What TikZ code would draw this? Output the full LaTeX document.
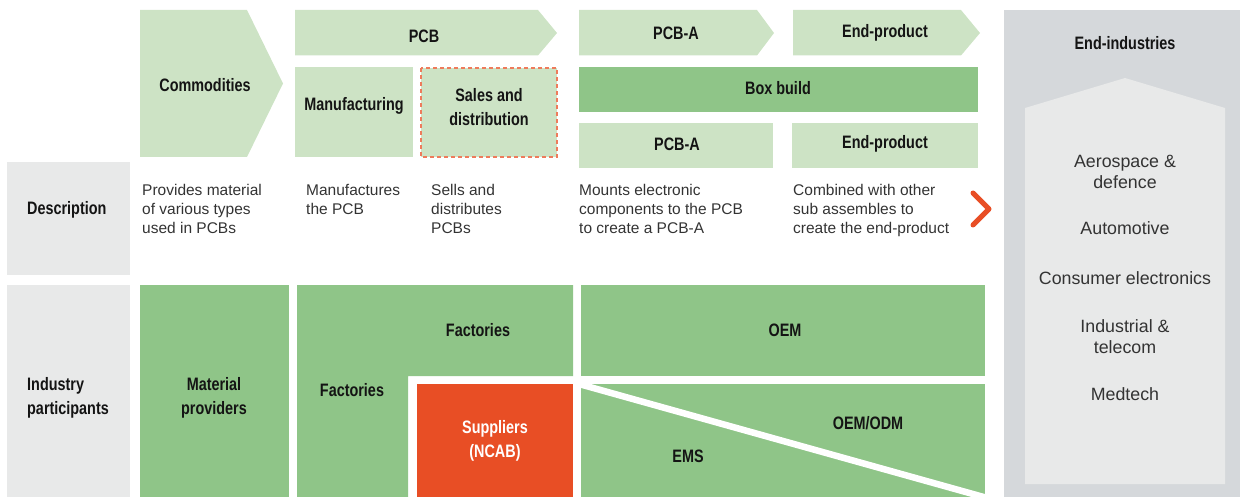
\documentclass[tikz,border=0pt]{standalone}
\usepackage{fontspec}
\setmainfont{Liberation Sans}
\newfontfamily\hd[FakeStretch=0.8]{Liberation Sans}
\definecolor{lg}{HTML}{CDE3C5}
\definecolor{mg}{HTML}{8FC588}
\definecolor{ncab}{HTML}{E84E25}
\definecolor{lbl}{HTML}{E8E9E9}
\definecolor{endg}{HTML}{D5D8DB}
\definecolor{dashc}{HTML}{EE7B5B}
\definecolor{txt}{HTML}{333333}
\tikzset{
  head/.style={font=\hd\bfseries\fontsize{18}{24}\selectfont, text=black!92, align=center, inner sep=0},
  body/.style={font=\fontsize{15.5}{19}\selectfont, text=txt, align=left, anchor=north west, inner sep=0},
  ind/.style={font=\fontsize{17.8}{21}\selectfont, text=txt, align=center, inner sep=0},
  rbox/.style={anchor=north west, inner sep=0, draw=none},
}
\begin{document}
\begin{tikzpicture}[x=1pt,y=-1pt]
\useasboundingbox (0,0) rectangle (1240,497);
% top chevrons
\fill[lg] (140,10) -- (247,10) -- (283,83.5) -- (247,157) -- (140,157) -- cycle;
\node[head] (commod) at (205,85) {Commodities};
\fill[lg] (295,10) -- (538,10) -- (557,33) -- (538,55.5) -- (295,55.5) -- cycle;
\node[head] (pcb) at (424,36) {PCB};
\fill[lg] (579,10) -- (757,10) -- (774,33) -- (757,55.5) -- (579,55.5) -- cycle;
\node[head] (pcbaT) at (676,33) {PCB-A};
\fill[lg] (793,10) -- (961,10) -- (980,33) -- (961,55.5) -- (793,55.5) -- cycle;
\node[head] (endT) at (885,33) {End-product};
% second row
\fill[lg] (295,67) rectangle (413,157);
\node[head] (manu) at (354,106) {Manufacturing};
\fill[lg] (421,68) rectangle (557,157);
\draw[dashc, line width=1.4pt, dash pattern=on 4pt off 3pt] (421,68) rectangle (557,157);
\node[head] (sales) at (489,107) {Sales and\\distribution};
\fill[mg] (579,67) rectangle (978,112);
\node[head] (box) at (778,88) {Box build};
\fill[lg] (579,123) rectangle (773,168);
\node[head] (pcbaB) at (677,144) {PCB-A};
\fill[lg] (792,123) rectangle (978,168);
\node[head] (endB) at (885,144) {End-product};
% description row
\fill[lbl] (7,162) rectangle (130,275);
\node[head, anchor=west] (desc) at (27,210) {Description};
\node[body] (d1) at (142,184.5) {Provides material\\of various types\\used in PCBs};
\node[body] (d2) at (306,184.5) {Manufactures\\the PCB};
\node[body] (d3) at (431,184.5) {Sells and\\distributes\\PCBs};
\node[body] (d4) at (579,184.5) {Mounts electronic\\components to the PCB\\to create a PCB-A};
\node[body] (d5) at (793,184.5) {Combined with other\\sub assembles to\\create the end-product};
\draw[ncab, line width=5pt, line cap=round, line join=round] (973,193) -- (989,209) -- (973,225);
% industry participants row
\fill[lbl] (7,285) rectangle (130,497);
\node[head, anchor=west, align=left] (indp) at (27,398) {Industry\\participants};
\fill[mg] (140,285) rectangle (289,497);
\node[head] (matp) at (214,398) {Material\\providers};
\fill[mg] (297,285) -- (573,285) -- (573,376) -- (408,376) -- (408,497) -- (297,497) -- cycle;
\node[head] (fact1) at (478,330) {Factories};
\node[head] (fact2) at (352,390) {Factories};
\fill[ncab] (417,384) rectangle (573,497);
\node[head, text=white] (supp) at (495,441) {Suppliers\\(NCAB)};
\fill[mg] (581,285) rectangle (985,376);
\node[head] (oem) at (785,330) {OEM};
\begin{scope}
\clip (581,384) rectangle (985,497);
\fill[mg] (581,384) rectangle (985,497);
\draw[white, line width=6.5pt] (579,384) -- (989,498.5);
\end{scope}
\node[head] (odm) at (868,423) {OEM/ODM};
\node[head] (ems) at (688,456) {EMS};
% end industries
\fill[endg] (1004,10) rectangle (1240,497);
\fill[lbl] (1025,484) -- (1025,108) -- (1125,78) -- (1225,108) -- (1225,484) -- cycle;
\node[head] (endi) at (1125,43) {End-industries};
\node[ind] (i1) at (1125,172) {Aerospace \&\\defence};
\node[ind] (i2) at (1125,228) {Automotive};
\node[ind] (i3) at (1125,278) {Consumer electronics};
\node[ind] (i4) at (1125,337) {Industrial \&\\telecom};
\node[ind] (i5) at (1125,394) {Medtech};
\end{tikzpicture}
\end{document}
